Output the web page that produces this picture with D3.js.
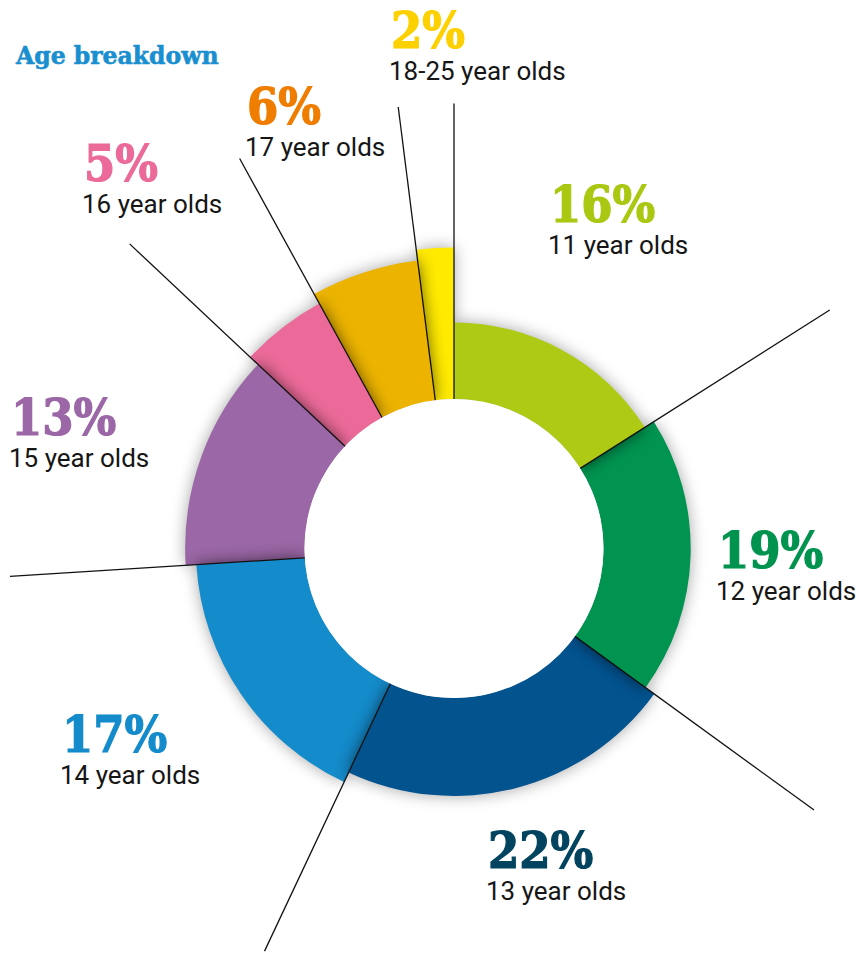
<!DOCTYPE html>
<html lang="en">
<head>
    <meta charset="UTF-8">
    <title>Age breakdown</title>
    <script type="text/javascript" src="https://cdn.jsdelivr.net/npm/d3@7/dist/d3.min.js"></script>
    <style>
        body { margin: 0; background: #fff; }
        .pct { font-family: "DejaVu Serif", serif; font-weight: bold; }
        .sub { font-family: Roboto, "Noto Sans", sans-serif; }
    </style>
</head>
<body>
<script type="text/javascript">
    const width = 861, height = 954;
    const cx = 454, cy = 548.5;
    const innerRadius = 149.5;
    const lineRadius = 445;

    // data
    const ages = ['11 year olds', '12 year olds', '13 year olds', '14 year olds',
        '15 year olds', '16 year olds', '17 year olds', '18-25 year olds'];
    const shares = [16, 19, 22, 17, 13, 5, 6, 2];

    // styles
    const sliceColors = ['#afca15', '#009450', '#03538f', '#148bcb', '#9b67a6', '#eb6a99', '#ecb400', '#ffea00'];
    const pctColors = ['#aac812', '#00934f', '#02445f', '#148bcb', '#9b67a6', '#eb6a99', '#ef7d00', '#fdd000'];
    // label anchor (left x, baseline of the % figure)
    const labelXY = [[550, 222], [718, 568], [488, 868], [62, 752], [11, 435], [84, 181], [247, 124], [391, 48]];

    const svg = d3.select('body').append('svg')
        .attr('width', width)
        .attr('height', height);

    const defs = svg.append('defs');
    defs.append('filter')
        .attr('id', 'blur')
        .attr('x', '-50%').attr('y', '-50%')
        .attr('width', '200%').attr('height', '200%')
        .append('feGaussianBlur')
        .attr('stdDeviation', 8);

    const pie = d3.pie().sort(null).value(d => d);
    const arcs = pie(shares);

    // each slice sticks out a bit further than the one before it
    const outer = d3.scaleLinear()
        .domain([0, shares.length - 1])
        .range([226, 301]);

    const arc = d3.arc()
        .innerRadius(innerRadius)
        .outerRadius(d => outer(d.index));

    const g = svg.append('g')
        .attr('transform', 'translate(' + cx + ',' + cy + ')');

    // soft glow round the outer edge
    g.append('g').selectAll('path')
        .data(arcs)
        .enter()
        .append('path')
        .attr('d', arc)
        .style('fill', '#000')
        .style('opacity', 0.35)
        .attr('filter', 'url(#blur)');

    g.append('g').selectAll('path')
        .data(arcs)
        .enter()
        .append('path')
        .attr('d', arc)
        .style('fill', (d, i) => sliceColors[i]);

    // each slice throws a shadow on the next one (clockwise)
    arcs.forEach(function (d, i) {
        if (i === 0) return;
        defs.append('clipPath')
            .attr('id', 'clip' + i)
            .append('path')
            .attr('d', arc(d));
        g.append('g')
            .attr('clip-path', 'url(#clip' + i + ')')
            .append('path')
            .attr('d', arc(arcs[i - 1]))
            .style('fill', '#000')
            .style('opacity', 0.6)
            .attr('filter', 'url(#blur)');
    });

    // hole
    g.append('circle')
        .attr('r', innerRadius)
        .style('fill', '#fff');

    // leader lines along the slice boundaries
    g.append('g').selectAll('line')
        .data(arcs)
        .enter()
        .append('line')
        .attr('x1', d => innerRadius * Math.sin(d.startAngle))
        .attr('y1', d => -innerRadius * Math.cos(d.startAngle))
        .attr('x2', d => lineRadius * Math.sin(d.startAngle))
        .attr('y2', d => -lineRadius * Math.cos(d.startAngle))
        .style('stroke', '#111')
        .style('stroke-width', 1.3);

    // labels
    const labels = svg.append('g').selectAll('g')
        .data(arcs)
        .enter()
        .append('g')
        .attr('transform', (d, i) => 'translate(' + labelXY[i][0] + ',' + labelXY[i][1] + ')');

    labels.append('text')
        .attr('class', 'pct')
        .style('font-size', '50px')
        .style('font-stretch', 'condensed')
        .style('fill', (d, i) => pctColors[i])
        .style('stroke', (d, i) => pctColors[i])
        .style('stroke-width', 1.2)
        .text(d => d.data + '%');

    labels.append('text')
        .attr('class', 'sub')
        .attr('x', -2)
        .attr('y', 32)
        .style('font-size', '26px')
        .style('fill', '#161616')
        .text((d, i) => ages[i]);

    svg.append('text')
        .attr('class', 'pct')
        .attr('x', 16)
        .attr('y', 64)
        .style('font-size', '23.5px')
        .style('fill', '#1a8fd0')
        .style('stroke', '#1a8fd0')
        .style('stroke-width', 0.6)
        .text('Age breakdown');
</script>
</body>
</html>
